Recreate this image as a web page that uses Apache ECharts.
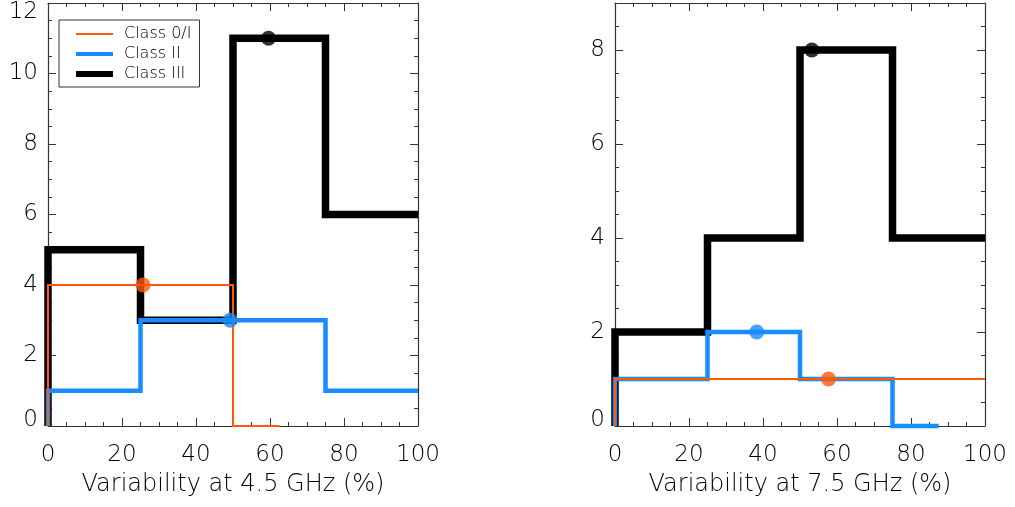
<!DOCTYPE html>
<html>
<head>
<meta charset="utf-8">
<script src="https://cdn.jsdelivr.net/npm/echarts@6/dist/echarts.min.js"></script>
<style>
html,body{margin:0;padding:0;background:#fff;}
#chart{width:1015px;height:507px;}
</style>
</head>
<body>
<div id="chart"></div>
<script>
// ---- data ----
var binEdges = [0, 25, 50, 75, 100];
var xTicks = [0, 20, 40, 60, 80, 100];
var seriesNames = ['Class 0/I', 'Class II', 'Class III'];

// 4.5 GHz panel (histogram counts per bin)
var class0I_45 = [4, 4, 0];
var class0I_45_end = 62.5;
var classII_45 = [1, 3, 3, 1];
var classII_45_end = 100;
var classIII_45 = [5, 3, 11, 6];
var classIII_45_end = 100;
// medians [x, y]
var median0I_45 = [25.7, 4];
var medianII_45 = [49.2, 3];
var medianIII_45 = [59.6, 11];

// 7.5 GHz panel
var class0I_75 = [1, 1, 1, 1];
var class0I_75_end = 100;
var classII_75 = [1, 2, 1, 0];
var classII_75_end = 87.5;
var classIII_75 = [2, 4, 8, 4];
var classIII_75_end = 100;
var median0I_75 = [57.7, 1];
var medianII_75 = [38.3, 2];
var medianIII_75 = [53.2, 8];

var axisTitles = ['Variability at 4.5 GHz (%)', 'Variability at 7.5 GHz (%)'];

// ---- build ----
function steps(vals, end) {
  var pts = [[binEdges[0], 0]];
  for (var i = 0; i < vals.length; i++) {
    var x0 = binEdges[i];
    var x1 = Math.min(binEdges[i + 1], end);
    pts.push([x0, vals[i]]);
    pts.push([x1, vals[i]]);
  }
  return pts;
}

var COL_O = '#ff5a0a';
var COL_B = '#168cff';
var COL_K = '#000000';
var FONT = "'DejaVu Sans', sans-serif";
var FW = 200;
var TXT = '#000';
var AX = '#333';

function xAx(grid, pos, showLabel, name) {
  return {
    type: 'value', gridIndex: grid, position: pos, min: 0, max: 100, interval: 20,
    axisLine: { show: true, onZero: false, lineStyle: { color: AX, width: 1.2 } },
    axisTick: { show: true, inside: true, length: 8, lineStyle: { color: AX, width: 1 } },
    minorTick: { show: true, splitNumber: 4, length: 4, lineStyle: { color: AX, width: 1 } },
    splitLine: { show: false },
    axisLabel: { show: showLabel, margin: 18, fontSize: 23, color: TXT, fontFamily: FONT, fontWeight: FW },
    name: name || '', nameLocation: 'middle', nameGap: 47,
    nameTextStyle: { fontSize: 24, color: TXT, fontFamily: FONT, fontWeight: FW }
  };
}
function yAx(grid, pos, max, interval, showLabel, tickLen, minor, showLine) {
  return {
    type: 'value', gridIndex: grid, position: pos, min: 0, max: max, interval: interval,
    axisLine: { show: showLine, onZero: false, lineStyle: { color: AX, width: 1.2 } },
    axisTick: { show: true, inside: true, length: tickLen, lineStyle: { color: AX, width: 1 } },
    minorTick: { show: minor, splitNumber: 4, length: 4, lineStyle: { color: AX, width: 1 } },
    splitLine: { show: false },
    axisLabel: {
      show: showLabel, margin: 10, fontSize: 23, color: TXT, fontFamily: FONT, fontWeight: FW,
      showMaxLabel: max % interval === 0,
      formatter: function (v) {
        if (v === 0) return '{lo|0}';
        if (v === 12) return '{hi|12}';
        return String(v);
      },
      rich: {
        lo: { fontSize: 23, fontFamily: FONT, fontWeight: FW, color: TXT, padding: [0, 0, 12, 0] },
        hi: { fontSize: 23, fontFamily: FONT, fontWeight: FW, color: TXT, padding: [19, 0, 0, 0] }
      }
    }
  };
}

function lineS(name, data, color, width, xi, yi, z) {
  return {
    type: 'line', name: name, data: data, xAxisIndex: xi, yAxisIndex: yi,
    showSymbol: false, symbol: 'none', clip: false, z: z, animation: false,
    color: color, lineStyle: { color: color, width: width, cap: 'butt', join: 'miter' }
  };
}
function dotS(pt, color, xi, yi) {
  return {
    type: 'scatter', name: 'median', data: [pt], xAxisIndex: xi, yAxisIndex: yi,
    symbol: 'circle', symbolSize: 15, z: 10, clip: false, animation: false,
    itemStyle: { color: color }
  };
}

var option = {
  backgroundColor: '#fff',
  animation: false,
  grid: [
    { left: 48, top: 3, width: 370, height: 423 },
    { left: 615, top: 3, width: 370, height: 423 }
  ],
  legend: {
    data: [
      { name: 'Class 0/I', icon: 'path://M0,0H37V2H0Z' },
      { name: 'Class II', icon: 'path://M0,0H37V4H0Z' },
      { name: 'Class III', icon: 'path://M0,0H37V6H0Z' }
    ],
    orient: 'vertical', left: 59, top: 20,
    padding: [6, 8, 5, 17],
    itemWidth: 37, itemHeight: 14, itemGap: 4,
    borderColor: '#333', borderWidth: 1,
    selectedMode: false,
    itemStyle: { borderWidth: 0 },
    textStyle: { fontSize: 16, color: TXT, fontFamily: FONT, fontWeight: FW, padding: [0, 0, 0, 6] }
  },
  xAxis: [
    xAx(0, 'bottom', true, axisTitles[0]),
    xAx(0, 'top', false),
    xAx(1, 'bottom', true, axisTitles[1]),
    xAx(1, 'top', false)
  ],
  yAxis: [
    yAx(0, 'left', 12, 2, true, 8, true, true),
    yAx(0, 'right', 12, 2, false, 8, true, true),
    yAx(1, 'left', 9, 2, true, 8, false, true),
    yAx(1, 'right', 9, 2, false, 8, false, true),
    yAx(1, 'left', 9, 0.5, false, 4, false, false),
    yAx(1, 'right', 9, 0.5, false, 4, false, false)
  ],
  series: [
    lineS('Class III', steps(classIII_45, classIII_45_end), COL_K, 7.5, 0, 0, 2),
    lineS('Class II', steps(classII_45, classII_45_end), COL_B, 4.5, 0, 0, 3),
    lineS('Class 0/I', steps(class0I_45, class0I_45_end), COL_O, 2, 0, 0, 4),
    dotS(medianIII_45, COL_K, 0, 0),
    dotS(medianII_45, COL_B, 0, 0),
    dotS(median0I_45, COL_O, 0, 0),

    lineS('Class III', steps(classIII_75, classIII_75_end), COL_K, 7.5, 2, 2, 2),
    lineS('Class II', steps(classII_75, classII_75_end), COL_B, 4.5, 2, 2, 3),
    lineS('Class 0/I', steps(class0I_75, class0I_75_end), COL_O, 2, 2, 2, 4),
    dotS(medianIII_75, COL_K, 2, 2),
    dotS(medianII_75, COL_B, 2, 2),
    dotS(median0I_75, COL_O, 2, 2)
  ]
};

var chart = echarts.init(document.getElementById('chart'), null, { renderer: 'canvas' });
chart.setOption(option);
</script>
</body>
</html>
